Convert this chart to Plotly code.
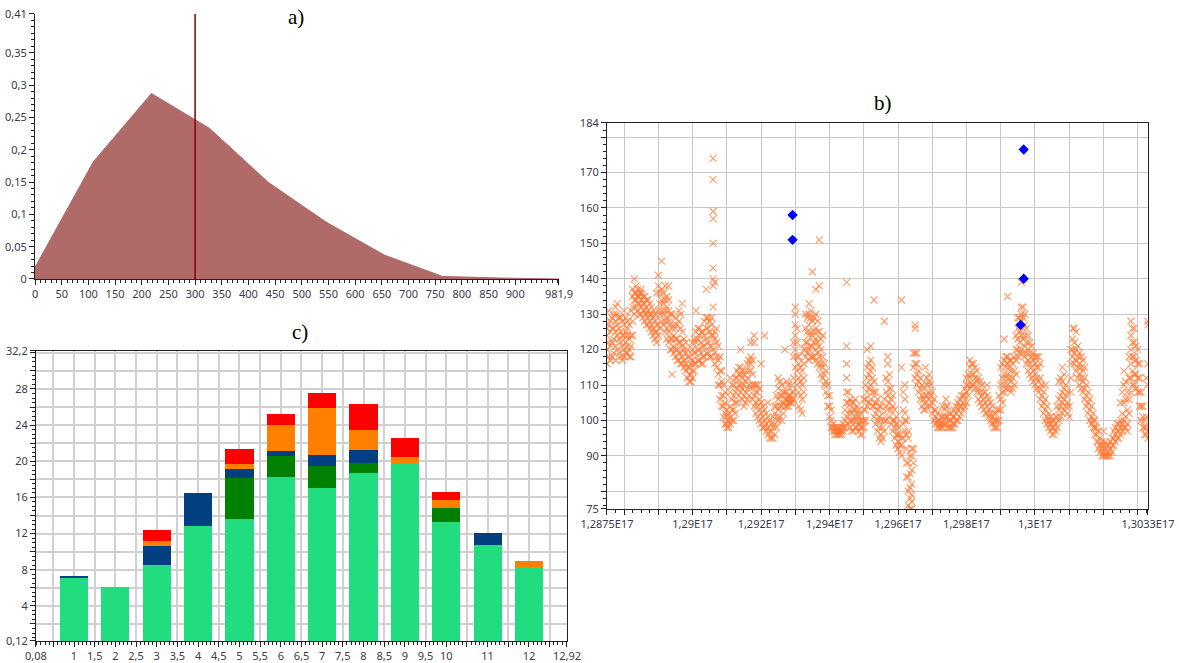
import plotly.graph_objects as go

# ---------------- a) density area ----------------
a_x = [0, 109.1, 218.2, 327.3, 436.4, 545.5, 654.6, 763.7, 872.8, 981.9]
a_y = [0.018, 0.181, 0.287, 0.233, 0.150, 0.088, 0.037, 0.004, 0.0015, 0.0]
a_marker_x = 300
a_xtick_vals = [0, 50, 100, 150, 200, 250, 300, 350, 400, 450, 500, 550, 600, 650, 700, 750, 800, 850, 900, 981.9]
a_xtick_text = ["0", "50", "100", "150", "200", "250", "300", "350", "400", "450", "500", "550", "600", "650", "700", "750", "800", "850", "900", "981,9"]
a_ytick_vals = [0, 0.05, 0.1, 0.15, 0.2, 0.25, 0.3, 0.35, 0.41]
a_ytick_text = ["0", "0,05", "0,1", "0,15", "0,2", "0,25", "0,3", "0,35", "0,41"]

# ---------------- b) scatter (x = 1.2875E17 + k * 1E13) ----------------
B_X0 = 1.2875e17
B_DX = 1e13
b_k = list(range(0, 159))
b_y = [
    [116, 120, 124, 126], [117, 121, 125, 128], [119, 123, 126, 130], [120, 124, 127, 130, 133],
    [118, 122, 125, 129], [118, 120, 124, 127, 131], [119, 121, 124, 126, 128], [118, 121, 124, 131],
    [130, 134, 136, 140], [131, 133, 135, 137], [130, 132, 134, 136, 137], [128, 131, 133, 135],
    [127, 129, 131, 134], [125, 127, 130, 132], [123, 125, 128, 130], [124, 127, 131, 138, 141],
    [128, 131, 134, 137, 145], [125, 128, 131, 134, 138], [122, 125, 128, 131, 134, 138], [113, 120, 123, 126, 130],
    [118, 120, 123, 126, 129], [117, 119, 122, 128, 131], [116, 118, 121, 125, 133], [114, 116, 119, 122],
    [111, 113, 115, 118], [112, 114, 117, 120, 122], [116, 119, 122, 125, 131], [117, 120, 124, 126],
    [116, 118, 121, 125], [119, 123, 126, 129, 137], [118, 121, 125, 128],
    [120, 124, 132, 138, 140, 143, 150, 157, 159, 168, 174],
    [115, 118, 122, 126], [106, 110, 114, 118], [101, 104, 107, 110], [98, 99, 101, 103],
    [99, 101, 104, 108, 112], [100, 103, 107, 110], [105, 109, 112, 114], [108, 110, 113, 115, 120],
    [104, 107, 110, 113], [106, 109, 112, 116], [109, 114, 116, 118, 122], [104, 107, 110, 124, 122],
    [101, 104, 108, 110], [99, 102, 105, 116], [98, 100, 103, 124], [96, 98, 101, 105],
    [95, 97, 99], [96, 99, 102, 104], [100, 103, 106, 109, 112], [100, 104, 107, 110],
    [104, 106, 108, 120], [104, 105, 106, 107, 110], [105, 106, 108, 110], [115, 120, 124, 127, 130, 132],
    [104, 108, 112, 116, 118], [102, 106, 110, 114], [118, 120, 122, 126, 130], [117, 120, 124, 127, 130, 133],
    [118, 121, 124, 128, 142], [117, 120, 123, 126, 130, 137], [115, 118, 121, 125, 138, 151], [112, 115, 118, 124],
    [108, 111, 114], [101, 104, 107], [97, 98, 99], [96, 97, 98],
    [96, 97, 98], [97, 98, 99], [101, 105, 108, 112, 116, 121, 139], [98, 100, 103, 106],
    [97, 100, 103, 105], [98, 100, 102, 104], [96, 98, 100, 102], [98, 100, 103, 106],
    [104, 108, 112, 115, 120], [106, 110, 114, 117, 121], [101, 104, 108, 111, 134], [97, 100, 103, 106],
    [94, 96, 100, 104], [97, 100, 106, 128], [103, 107, 111, 116, 118], [99, 103, 106, 109],
    [95, 98, 100, 103], [92, 94, 96, 98], [90, 93, 95, 115, 134], [97, 100, 102, 106, 110],
    [76, 80, 84, 88, 95, 97], [75, 77, 79, 82, 86, 90, 92], [112, 116, 119, 126, 127], [108, 111, 114],
    [104, 107, 110], [103, 105, 107, 115], [106, 108, 111, 113], [102, 105, 108],
    [99, 101, 103], [98, 99, 100], [98, 99, 101, 104], [99, 101, 104, 106],
    [98, 100, 102], [98, 99, 101], [100, 102, 104], [101, 104, 106],
    [103, 105, 107], [105, 108, 110, 112], [109, 112, 115, 117], [110, 113, 116],
    [108, 111, 114], [105, 108, 111], [103, 106, 108], [102, 104, 107, 110],
    [100, 102, 105], [98, 100, 102], [98, 100, 103], [103, 106, 110, 115],
    [108, 110, 113, 117, 123], [110, 113, 116, 118, 135], [108, 111, 114, 117], [110, 114, 118],
    [118, 120, 123, 126, 129], [120, 124, 128, 130, 132, 139], [118, 121, 124, 127, 130], [114, 117, 120, 124],
    [112, 115, 118, 121], [110, 113, 116, 118], [108, 111, 115, 118], [104, 107, 110],
    [100, 103, 106, 110], [98, 100, 102], [96, 98, 100], [97, 99, 101],
    [100, 103, 106, 111], [102, 105, 108, 111, 115], [104, 107, 110], [101, 104],
    [118, 120, 123, 126], [114, 117, 120, 125], [110, 113, 116, 119], [108, 111, 114, 117],
    [104, 107, 110], [100, 103, 106], [98, 100, 102], [94, 96, 98],
    [91, 93, 95], [90, 91, 93, 97], [90, 91, 93], [90, 92, 94],
    [93, 95, 97], [95, 97, 99], [96, 98, 100, 105], [98, 100, 105, 110, 114],
    [97, 99, 103, 108], [108, 112, 116, 120, 124, 128], [110, 113, 118, 122, 126], [108, 112, 116, 120],
    [100, 104, 108], [96, 98, 100], [95, 97, 110, 116, 127, 128],
]
# readings between the integer columns (k + 0.5)
b_k_half = [k + 0.5 for k in range(0, 158)]
b_y_half = [
    [118, 122, 127, 131], [118, 122, 126, 129], [117, 121, 125, 128, 132], [119, 123, 126, 129],
    [117, 121, 124, 128], [119, 122, 125, 129], [118, 120, 123, 127], [124, 128, 132, 135, 137],
    [132, 134, 136, 138], [130, 133, 135, 136], [129, 131, 133, 135], [127, 130, 132, 134],
    [126, 128, 130, 133], [124, 126, 129, 131], [122, 125, 127, 136], [126, 130, 133, 136],
    [127, 130, 133, 136], [123, 126, 129, 132, 135], [120, 123, 127, 130], [119, 121, 124, 127],
    [117, 120, 123, 127], [116, 119, 122, 126, 130], [115, 117, 120, 123], [112, 115, 118, 120],
    [111, 113, 116], [114, 116, 119, 123], [117, 120, 123, 126], [116, 119, 122, 125],
    [118, 121, 124, 128], [119, 122, 126, 129], [118, 121, 124, 127, 129], [116, 119, 123, 125, 139],
    [110, 113, 117, 121], [104, 107, 111, 114], [99, 102, 105, 108], [98, 100, 102],
    [100, 103, 106, 110], [102, 105, 108, 112], [107, 110, 113, 115], [106, 109, 112, 114],
    [105, 108, 111, 114], [107, 110, 114, 117], [106, 110, 113, 117], [102, 105, 108, 110],
    [100, 103, 106, 109], [98, 101, 104], [97, 99, 102], [95, 97, 100],
    [95, 98, 101], [98, 101, 104, 107], [101, 104, 107, 111], [102, 105, 108],
    [104, 106, 108, 111], [105, 106, 107], [106, 108, 112, 118, 122], [110, 114, 118, 122, 126],
    [103, 107, 111, 115], [108, 112, 116, 120], [119, 122, 125, 129], [118, 121, 125, 129, 131],
    [118, 122, 125, 129], [116, 119, 122, 125, 128], [113, 116, 120, 123], [110, 113, 116],
    [104, 107, 110], [98, 100, 103], [96, 97, 98], [96, 97, 98],
    [96, 97, 98], [98, 100, 103], [99, 102, 105, 108], [97, 100, 102, 105],
    [98, 101, 103, 106], [97, 99, 101, 103], [96, 98, 100], [100, 103, 106, 110],
    [105, 109, 113, 116], [104, 108, 112, 115], [99, 102, 105, 108], [95, 98, 101, 104],
    [95, 98, 102], [100, 104, 108, 112], [101, 105, 109, 113], [97, 100, 104, 107],
    [93, 96, 99, 101], [91, 93, 96], [95, 99, 103, 108], [84, 88, 92, 96, 100],
    [75, 78, 81, 85, 90], [88, 92, 115, 119], [110, 113, 116, 119], [106, 109, 112],
    [103, 106, 109], [104, 107, 110, 112], [104, 107, 110], [100, 103, 106],
    [98, 100, 102], [98, 99, 101], [99, 101, 103], [98, 101, 104],
    [98, 100, 102], [99, 101, 103], [100, 103, 105], [102, 104, 107],
    [104, 107, 109], [107, 110, 113], [110, 113, 116], [109, 112, 115],
    [106, 109, 112], [104, 107, 110], [102, 105, 108], [101, 103, 106],
    [99, 101, 104], [98, 100, 102], [100, 103, 107], [105, 108, 112, 116],
    [109, 112, 115, 118], [109, 112, 115, 117], [109, 112, 116], [113, 117, 120, 124],
    [119, 122, 125, 129], [119, 123, 126, 129, 132], [116, 119, 122, 126], [113, 116, 119, 122],
    [111, 114, 117, 119], [109, 112, 115, 118], [106, 109, 112, 116], [102, 105, 108],
    [99, 101, 104], [97, 99, 101], [96, 98, 100], [98, 101, 104],
    [101, 104, 107, 112], [103, 106, 109, 113], [102, 105, 108], [108, 112, 116, 120],
    [116, 119, 122, 126], [112, 115, 118, 121], [109, 112, 115, 118], [106, 109, 112, 115],
    [102, 105, 108], [99, 101, 104], [96, 98, 100], [92, 94, 97],
    [90, 92, 94], [90, 92, 94], [90, 91, 93], [91, 93, 95],
    [94, 96, 98], [95, 97, 99], [97, 99, 102, 108], [98, 101, 106, 111],
    [102, 106, 112, 118], [110, 114, 118, 122, 126], [109, 113, 117, 121], [104, 108, 112, 116],
    [98, 101, 104], [96, 98, 101, 112],
]
b_out_k = [54.2, 54.2, 121.7, 121.7, 120.8]
b_out_y = [158, 151, 176.5, 140, 127]
b_xtick_k = [0, 5, 15, 25, 35, 45, 55, 65, 75, 85, 95, 105, 115, 125, 135, 145, 155, 158]
b_xtick_text = ["1,2875E17", "", "", "1,29E17", "", "1,292E17", "", "1,294E17", "", "1,296E17", "",
                "1,298E17", "", "1,3E17", "", "", "", "1,3033E17"]
b_ytick_vals = [75, 80, 90, 100, 110, 120, 130, 140, 150, 160, 170, 180, 184]
b_ytick_text = ["75", "", "90", "100", "110", "120", "130", "140", "150", "160", "170", "", "184"]

# ---------------- c) stacked bars ----------------
c_pos = [1, 2, 3, 4, 5, 6, 7, 8, 9, 10, 11, 12]
c_lightgreen = [7.1, 6.1, 8.55, 12.85, 13.6, 18.3, 17.0, 18.65, 19.65, 13.3, 10.75, 8.35]
c_darkgreen = [0, 0, 0, 0, 4.5, 2.25, 2.45, 1.15, 0, 1.55, 0, 0]
c_darkblue = [0.1, 0, 2.1, 3.65, 1.05, 0.6, 1.2, 1.4, 0, 0, 1.3, 0]
c_orange = [0, 0, 0.55, 0, 0.6, 2.9, 5.25, 2.3, 0.8, 0.85, 0, 0.65]
c_red = [0, 0, 1.25, 0, 1.6, 1.2, 1.7, 2.8, 2.1, 0.9, 0, 0]
c_xtick_vals = [0.08, 0.5, 1, 1.5, 2, 2.5, 3, 3.5, 4, 4.5, 5, 5.5, 6, 6.5, 7, 7.5, 8, 8.5, 9, 9.5, 10, 10.5, 11, 11.5, 12, 12.5, 12.92]
c_xtick_text = ["0,08", "", "1", "1,5", "2", "2,5", "3", "3,5", "4", "4,5", "5", "5,5", "6", "6,5", "7", "7,5",
                "8", "8,5", "9", "9,5", "10", "", "11", "", "12", "", "12,92"]
c_ytick_vals = [0.12, 2, 4, 6, 8, 10, 12, 14, 16, 18, 20, 22, 24, 26, 28, 30, 32, 32.2]
c_ytick_text = ["0,12", "", "4", "", "8", "", "12", "", "16", "", "20", "", "24", "", "28", "", "", "32,2"]

fig = go.Figure()

# a)
fig.add_trace(go.Scatter(x=a_x, y=a_y, mode="lines", fill="tozeroy",
                         line=dict(color="rgb(176,106,104)", width=1),
                         fillcolor="rgb(176,106,104)", xaxis="x", yaxis="y", showlegend=False))
fig.add_trace(go.Scatter(x=[a_marker_x, a_marker_x], y=[0, a_ytick_vals[-1]], mode="lines",
                         line=dict(color="#8B0000", width=1.5), xaxis="x", yaxis="y", showlegend=False))

# b)
bx, by = [], []
for ks, yss in ((b_k, b_y), (b_k_half, b_y_half)):
    for k, ys in zip(ks, yss):
        for v in ys:
            bx.append(B_X0 + k * B_DX)
            by.append(v)
fig.add_trace(go.Scatter(x=bx, y=by, mode="markers",
                         marker=dict(symbol="x-thin", size=7,
                                     line=dict(width=1.2, color="rgba(255,118,50,0.7)")),
                         xaxis="x2", yaxis="y2", showlegend=False))
fig.add_trace(go.Scatter(x=[B_X0 + k * B_DX for k in b_out_k], y=b_out_y, mode="markers",
                         marker=dict(symbol="diamond", size=8, color="#0000FF"),
                         xaxis="x2", yaxis="y2", showlegend=False))

# c)
for vals, col in [(c_lightgreen, "#22DD80"), (c_darkgreen, "#008000"), (c_darkblue, "#004080"),
                  (c_orange, "#FF8000"), (c_red, "#FF0000")]:
    fig.add_trace(go.Bar(x=c_pos, y=vals, width=0.68, marker=dict(color=col, line=dict(width=0)),
                         xaxis="x3", yaxis="y3", showlegend=False))

tickfont = dict(family="Noto Sans", size=11, color="#3a3a4a")
common = dict(tickfont=tickfont, ticks="outside", ticklen=5, tickcolor="#222", showline=True,
              linecolor="#222", linewidth=1, zeroline=False, tickmode="array", tickangle=0,
              automargin=False)

title_font = dict(family="Liberation Serif", size=21, color="black")

fig.update_layout(
    width=1179, height=663, margin=dict(l=0, r=0, t=0, b=0),
    paper_bgcolor="white", plot_bgcolor="white", barmode="stack", bargap=0,
    xaxis=dict(domain=[0.0297, 0.4741], range=[0, 981.9], anchor="y", tickvals=a_xtick_vals,
               ticktext=a_xtick_text, showgrid=False,
               minor=dict(dtick=10, tick0=0, ticks="outside", ticklen=3, tickcolor="#222", showgrid=False),
               **common),
    yaxis=dict(domain=[0.5792, 0.9789], range=[0, 0.41], anchor="x", tickvals=a_ytick_vals,
               ticktext=a_ytick_text, showgrid=False,
               minor=dict(dtick=0.01, tick0=0, ticks="outside", ticklen=3, tickcolor="#222", showgrid=False),
               **common),
    xaxis2=dict(domain=[0.5148, 0.9737], range=[B_X0, B_X0 + 158 * B_DX], anchor="y2",
                tickvals=[B_X0 + k * B_DX for k in b_xtick_k], ticktext=b_xtick_text,
                showgrid=True, gridcolor="#c8c8c8", gridwidth=1, mirror=True,
                minor=dict(dtick=2.5 * B_DX, tick0=B_X0, ticks="outside", ticklen=3, tickcolor="#222", showgrid=False),
                **common),
    yaxis2=dict(domain=[0.2323, 0.8145], range=[75, 184], anchor="x2", tickvals=b_ytick_vals,
                ticktext=b_ytick_text, showgrid=True, gridcolor="#c8c8c8", gridwidth=1, mirror=True,
                minor=dict(dtick=2, tick0=0, ticks="outside", ticklen=3, tickcolor="#222", showgrid=False),
                **common),
    xaxis3=dict(domain=[0.0305, 0.4809], range=[0.08, 12.92], anchor="y3", tickvals=c_xtick_vals,
                ticktext=c_xtick_text, showgrid=True, gridcolor="#d0d0d0", gridwidth=1.5, mirror=True,
                minor=dict(dtick=0.1, tick0=0, ticks="outside", ticklen=3, tickcolor="#222", showgrid=False),
                **common),
    yaxis3=dict(domain=[0.0332, 0.4706], range=[0.12, 32.2], anchor="x3", tickvals=c_ytick_vals,
                ticktext=c_ytick_text, showgrid=True, gridcolor="#d0d0d0", gridwidth=1.5, mirror=True,
                minor=dict(dtick=0.5, tick0=0, ticks="outside", ticklen=3, tickcolor="#222", showgrid=False),
                **common),
    annotations=[
        dict(text="a)", x=0.251, y=0.974, xref="paper", yref="paper", showarrow=False,
             xanchor="center", yanchor="middle", font=title_font),
        dict(text="b)", x=0.749, y=0.845, xref="paper", yref="paper", showarrow=False,
             xanchor="center", yanchor="middle", font=title_font),
        dict(text="c)", x=0.2545, y=0.4992, xref="paper", yref="paper", showarrow=False,
             xanchor="center", yanchor="middle", font=title_font),
    ],
)

fig.write_html("out.html")
